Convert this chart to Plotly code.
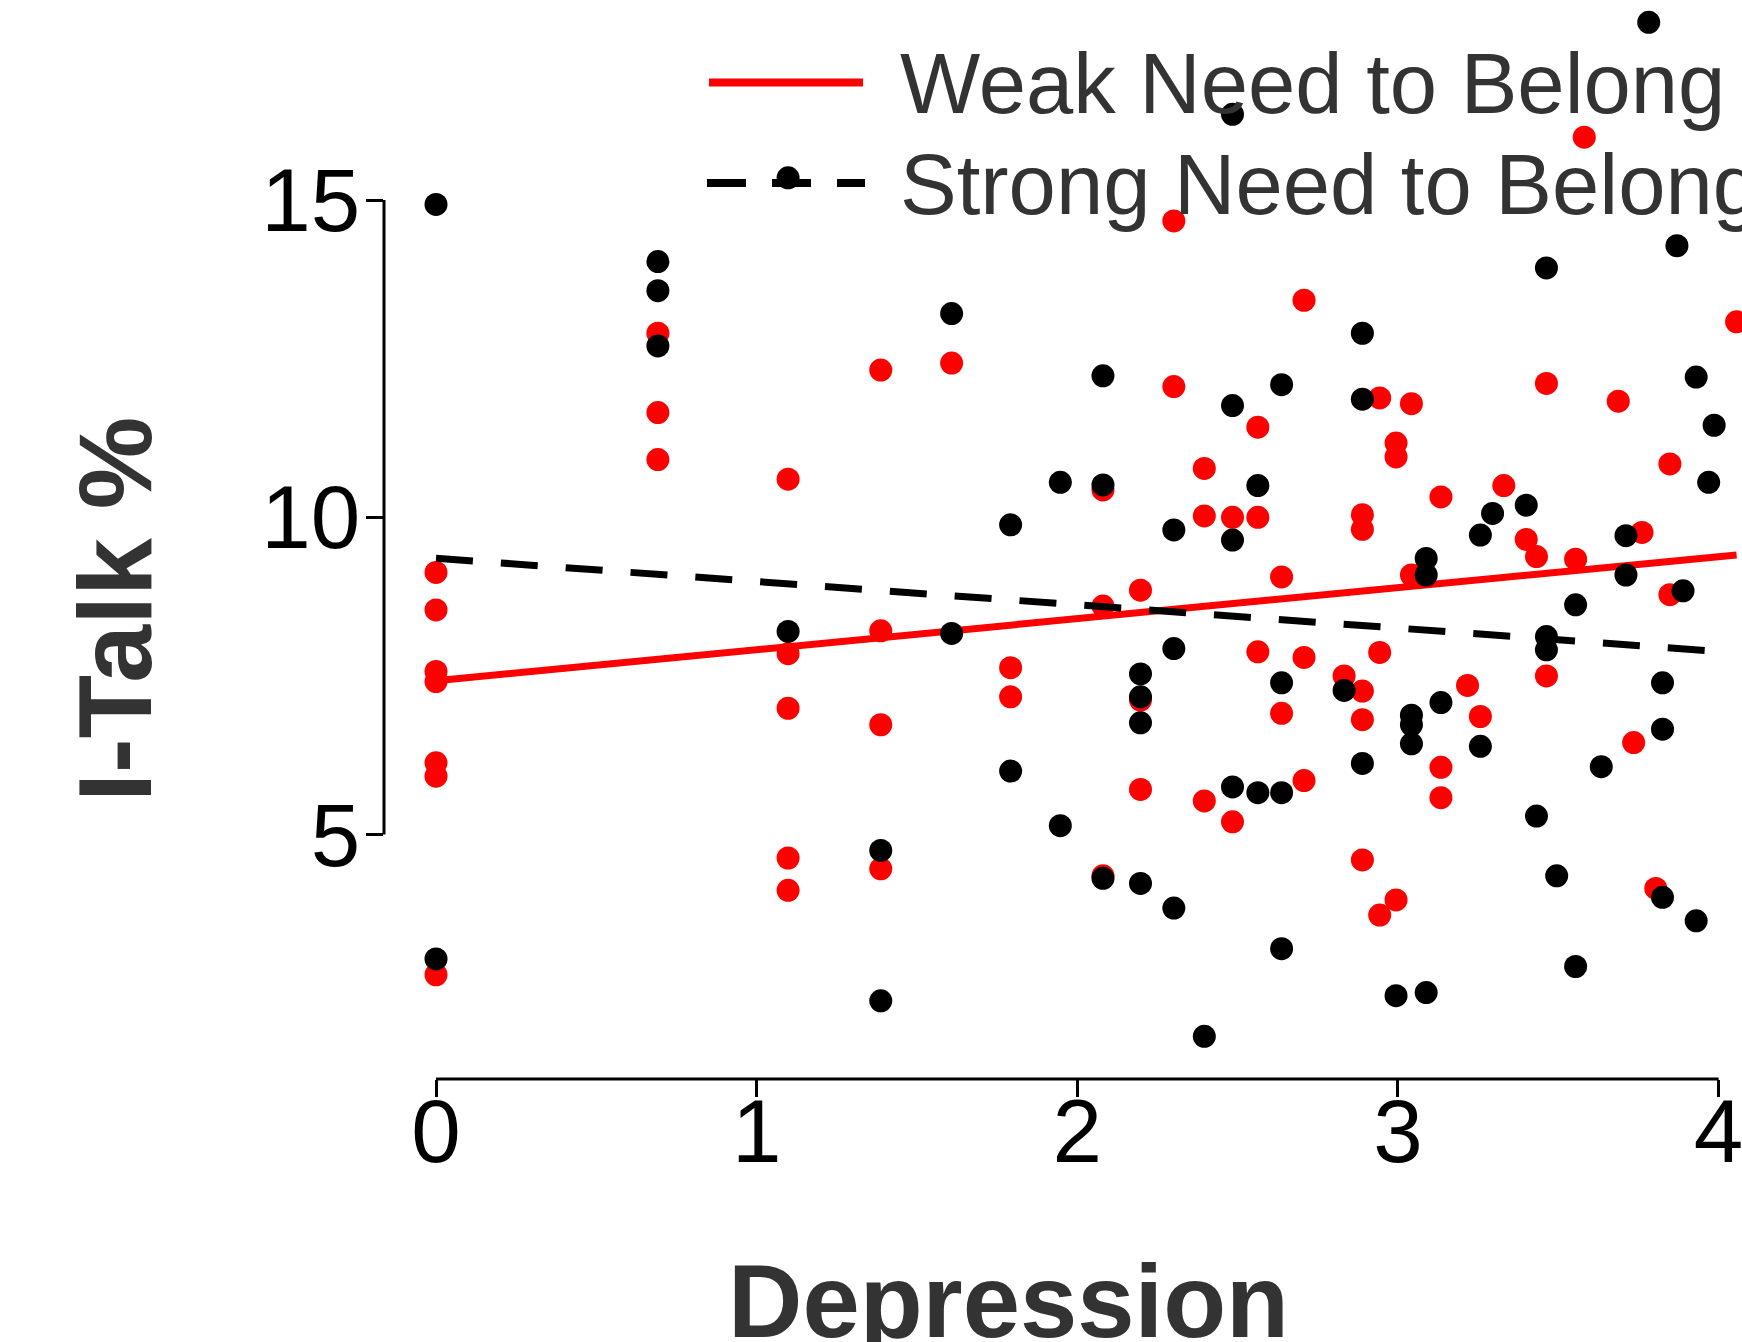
import plotly.graph_objects as go

# ---------------- data ----------------
series_names = ["Weak Need to Belong", "Strong Need to Belong"]
x_title = "Depression"
y_title = "I-Talk %"
x_ticks = [0, 1, 2, 3, 4]
y_ticks = [5, 10, 15]

# Weak need to belong (red points)
weak_x = [0.0, 0.0, 0.0, 0.0, 0.0, 0.0, 0.0,
          0.692, 0.692, 0.692,
          1.098, 1.098, 1.098, 1.098, 1.098,
          1.387, 1.387, 1.387, 1.387,
          1.608, 1.792, 1.792,
          2.080, 2.080, 2.080,
          2.197, 2.197, 2.197,
          2.301, 2.301,
          2.396, 2.396, 2.396,
          2.484, 2.484,
          2.563, 2.563, 2.563,
          2.637, 2.637,
          2.707, 2.707, 2.707,
          2.832,
          2.889, 2.889, 2.889, 2.889, 2.889,
          2.943, 2.943, 2.943,
          2.994, 2.994, 2.994,
          3.042, 3.042,
          3.134, 3.134, 3.134,
          3.217, 3.257, 3.330, 3.400, 3.432,
          3.463, 3.463,
          3.554, 3.581, 3.687, 3.735, 3.761, 3.804,
          3.848, 3.848, 4.056]
weak_y = [9.13, 8.54, 7.57, 7.41, 6.13, 5.92, 2.79,
          12.90, 11.65, 10.91,
          10.60, 7.85, 6.99, 4.63, 4.12,
          12.32, 8.21, 6.73, 4.46,
          12.43, 7.63, 7.17,
          10.43, 8.60, 4.35,
          8.85, 7.12, 5.71,
          14.67, 12.06,
          10.77, 10.02, 5.53,
          10.00, 5.20,
          11.42, 10.00, 7.88,
          9.06, 6.91,
          13.42, 7.79, 5.85,
          7.50,
          10.04, 9.81, 7.26, 6.81, 4.60,
          11.88, 7.87, 3.73,
          11.17, 10.95, 3.97,
          11.79, 9.09,
          10.32, 6.06, 5.58,
          7.35, 6.86, 10.50, 9.65, 9.38,
          12.11, 7.50,
          9.34, 15.99, 11.83, 6.45, 9.76, 4.15,
          10.84, 8.78, 13.08]

# Strong need to belong (black points)
strong_x = [0.0, 0.0,
            0.692, 0.692, 0.692,
            1.098, 1.098,
            1.387, 1.387,
            1.608, 1.608,
            1.792, 1.792,
            1.947, 1.947,
            2.080, 2.080, 2.080,
            2.197, 2.197, 2.197, 2.197,
            2.301, 2.301, 2.301,
            2.396,
            2.484, 2.484, 2.484, 2.484,
            2.563, 2.563,
            2.637, 2.637, 2.637, 2.637,
            2.832,
            2.889, 2.889, 2.889,
            2.994,
            3.042, 3.042, 3.042,
            3.088, 3.088, 3.088,
            3.134,
            3.257, 3.257,
            3.295, 3.400, 3.432,
            3.463, 3.463, 3.463,
            3.495,
            3.554, 3.554,
            3.634,
            3.711, 3.711,
            3.782,
            3.825, 3.825, 3.825,
            3.870, 3.889,
            3.930, 3.930,
            3.969, 3.986]
strong_y = [14.93, 3.04,
            14.03, 13.57, 12.70,
            15.35, 8.20,
            4.75, 2.38,
            13.21, 8.17,
            9.88, 6.00,
            10.55, 5.14,
            12.23, 10.51, 4.31,
            7.53, 7.17, 6.76, 4.23,
            9.80, 7.93, 3.84,
            1.82,
            16.35, 11.76, 9.64, 5.75,
            10.50, 5.66,
            12.09, 7.39, 5.66, 3.20,
            7.27,
            12.90, 11.86, 6.12,
            2.46,
            6.88, 6.73, 6.43,
            9.35, 9.09, 2.51,
            7.08,
            9.72, 6.39,
            10.06, 10.19, 5.29,
            13.93, 8.12, 7.91,
            4.35,
            8.62, 2.92,
            6.07,
            9.71, 9.09,
            17.80,
            7.39, 6.66, 4.01,
            14.28, 8.84,
            12.21, 3.64,
            10.55, 11.45]

# fitted regression lines (end points)
weak_fit_x = [0.0, 4.056]
weak_fit_y = [7.425, 9.406]
strong_fit_x = [0.0, 3.986]
strong_fit_y = [9.354, 7.891]

# ---------------- styling / layout ----------------
W, H = 1742, 1342
ML, MB = 384, 263
PW, PH = W - ML, H - MB
RED = "#FF0000"
BLACK = "#000000"
TXT = "#333333"
FONT = "Liberation Sans, Arial, sans-serif"


def px_x(px):
    return (px - ML) / PW


def px_y(py):
    return (PH - py) / PH


fig = go.Figure()
fig.add_trace(go.Scatter(x=weak_x, y=weak_y, mode="markers",
                         marker=dict(color=RED, size=23, line=dict(width=0)),
                         name=series_names[0], showlegend=False))
fig.add_trace(go.Scatter(x=weak_fit_x, y=weak_fit_y, mode="lines",
                         line=dict(color=RED, width=7),
                         name=series_names[0], showlegend=False))
fig.add_trace(go.Scatter(x=strong_x, y=strong_y, mode="markers",
                         marker=dict(color=BLACK, size=23, line=dict(width=0)),
                         name=series_names[1], showlegend=False))
fig.add_trace(go.Scatter(x=strong_fit_x, y=strong_fit_y, mode="lines",
                         line=dict(color=BLACK, width=7, dash="37px,28px"),
                         name=series_names[1], showlegend=False))

shapes = [
    # axis lines spanning only the tick range
    dict(type="line", xref="paper", yref="y", x0=0, x1=0,
         y0=y_ticks[0], y1=y_ticks[-1], line=dict(color=BLACK, width=3)),
    dict(type="line", xref="x", yref="paper", x0=x_ticks[0], x1=x_ticks[-1],
         y0=0, y1=0, line=dict(color=BLACK, width=3)),
    # legend samples
    dict(type="line", xref="paper", yref="paper", x0=px_x(709), x1=px_x(863),
         y0=px_y(82.5), y1=px_y(82.5), line=dict(color=RED, width=8)),
    dict(type="line", xref="paper", yref="paper", x0=px_x(707), x1=px_x(865),
         y0=px_y(183), y1=px_y(183), line=dict(color=BLACK, width=8, dash="39px,26px")),
]

annotations = [
    dict(text=series_names[0], xref="paper", yref="paper", x=px_x(898), y=px_y(83.8),
         xanchor="left", yanchor="middle", showarrow=False,
         font=dict(family=FONT, size=85, color=TXT)),
    dict(text=series_names[1], xref="paper", yref="paper", x=px_x(898), y=px_y(184.8),
         xanchor="left", yanchor="middle", showarrow=False,
         font=dict(family=FONT, size=85, color=TXT)),
    dict(text=x_title, xref="paper", yref="paper", x=px_x(1008.4), y=px_y(1301),
         xanchor="center", yanchor="middle", showarrow=False,
         font=dict(family=FONT, size=103, color=TXT, weight="bold")),
    dict(text=y_title, xref="paper", yref="paper", x=px_x(115), y=px_y(610),
         xanchor="center", yanchor="middle", showarrow=False, textangle=-90,
         font=dict(family=FONT, size=104, color=TXT, weight="bold")),
]

fig.update_layout(
    width=W, height=H,
    margin=dict(l=ML, r=0, t=0, b=MB, pad=0),
    paper_bgcolor="white", plot_bgcolor="white",
    showlegend=False,
    font=dict(family=FONT, color=BLACK),
    shapes=shapes,
    annotations=annotations,
)
fig.update_xaxes(range=[-0.1622, 4.0729], tickvals=x_ticks, ticktext=[str(v) for v in x_ticks],
                 ticks="outside", ticklen=17, tickwidth=3, tickcolor=BLACK,
                 tickfont=dict(family=FONT, size=89, color=BLACK),
                 ticklabelstandoff=-42, ticklabeloverflow="allow",
                 showgrid=False, zeroline=False, showline=False, automargin=False)
fig.update_yaxes(range=[1.147, 18.152], tickvals=y_ticks, ticktext=[str(v) for v in y_ticks],
                 ticks="outside", ticklen=17, tickwidth=3, tickcolor=BLACK,
                 tickfont=dict(family=FONT, size=89, color=BLACK),
                 ticklabelstandoff=-12, ticklabeloverflow="allow",
                 showgrid=False, zeroline=False, showline=False, automargin=False)

fig.write_html("out.html", config={"displayModeBar": False},
               post_script="document.body.style.margin='0';")
